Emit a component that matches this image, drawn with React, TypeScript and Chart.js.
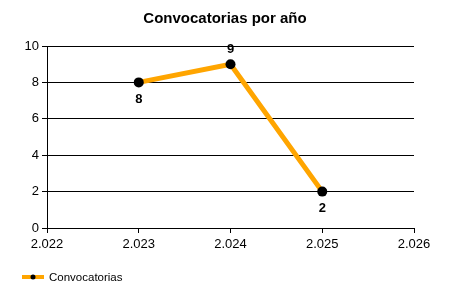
import React, { useEffect, useRef } from "react";
import { Chart, registerables } from "chart.js";

Chart.register(...registerables);

const years = [2023, 2024, 2025];
const counts = [8, 9, 2];
const labelSides = ["below", "above", "below"];
const yTicks = [0, 2, 4, 6, 8, 10];
const seriesName = "Convocatorias";
const titleText = "Convocatorias por año";

const FONT = "'Liberation Sans', Arial, sans-serif";
const ORANGE = "#FFA500";

function fmt(v: number): string {
  const s = String(Math.round(v));
  return s.length > 3 ? s.slice(0, s.length - 3) + "." + s.slice(s.length - 3) : s;
}

const extras = {
  id: "extras",
  afterDatasetsDraw(chart: any) {
    const ctx = chart.ctx;
    const meta = chart.getDatasetMeta(0);
    ctx.save();
    ctx.fillStyle = "#000";
    ctx.font = `bold 13px ${FONT}`;
    ctx.textAlign = "center";
    ctx.textBaseline = "middle";
    meta.data.forEach((pt: any, i: number) => {
      const dy = labelSides[i] === "above" ? -15 : 17;
      ctx.fillText(String(counts[i]), pt.x, pt.y + dy);
    });
    ctx.restore();
  },
  afterDraw(chart: any) {
    const ctx = chart.ctx;
    ctx.save();
    // title
    ctx.fillStyle = "#000";
    ctx.font = `bold 15px ${FONT}`;
    ctx.textAlign = "center";
    ctx.textBaseline = "middle";
    ctx.fillText(titleText, 225, 19);
    // legend
    const ly = 277;
    ctx.strokeStyle = ORANGE;
    ctx.lineWidth = 4;
    ctx.beginPath();
    ctx.moveTo(22, ly);
    ctx.lineTo(44, ly);
    ctx.stroke();
    ctx.fillStyle = "#000";
    ctx.beginPath();
    ctx.arc(33, ly, 2.5, 0, Math.PI * 2);
    ctx.fill();
    ctx.font = `11.5px ${FONT}`;
    ctx.textAlign = "left";
    ctx.fillText(seriesName, 49, ly + 1);
    ctx.restore();
  },
};

export default function App() {
  const ref = useRef<HTMLCanvasElement>(null);
  useEffect(() => {
    if (!ref.current) return;
    const chart = new Chart(ref.current, {
      type: "line",
      data: {
        datasets: [
          {
            label: seriesName,
            data: years.map((y, i) => ({ x: y, y: counts[i] })),
            borderColor: ORANGE,
            borderWidth: 5,
            pointBackgroundColor: "#000",
            pointBorderColor: "#000",
            pointRadius: 5,
            pointBorderWidth: 0,
            tension: 0,
          },
        ],
      },
      options: {
        animation: false,
        responsive: false,
        layout: { padding: { top: 46, right: 36, left: 0, bottom: 0 } },
        plugins: {
          legend: { display: false },
          title: { display: false },
          tooltip: { enabled: false },
        },
        scales: {
          x: {
            type: "linear",
            min: 2022,
            max: 2026,
            afterFit(scale: any) {
              scale.height = 72;
            },
            ticks: {
              stepSize: 1,
              color: "#000",
              padding: 4,
              font: { family: FONT, size: 13 },
              callback: (v: any) => fmt(Number(v)),
            },
            grid: {
              drawOnChartArea: false,
              drawTicks: true,
              tickLength: 5,
              color: "#000",
            },
            border: { display: true, color: "#000", width: 1 },
          },
          y: {
            min: 0,
            max: 10,
            afterFit(scale: any) {
              scale.width = 47;
            },
            afterBuildTicks(scale: any) {
              scale.ticks = yTicks.map((v) => ({ value: v }));
            },
            ticks: {
              color: "#000",
              padding: 3,
              font: { family: FONT, size: 13 },
            },
            grid: {
              color: "#000",
              tickLength: 5,
              lineWidth: 1,
            },
            border: { display: true, color: "#000", width: 1 },
          },
        },
      },
      plugins: [extras],
    });
    return () => chart.destroy();
  }, []);
  return (
    <div style={{ position: "fixed", left: 0, top: 0, width: 450, height: 300, background: "#fff" }}>
      <canvas ref={ref} width={450} height={300} style={{ width: 450, height: 300 }} />
    </div>
  );
}
